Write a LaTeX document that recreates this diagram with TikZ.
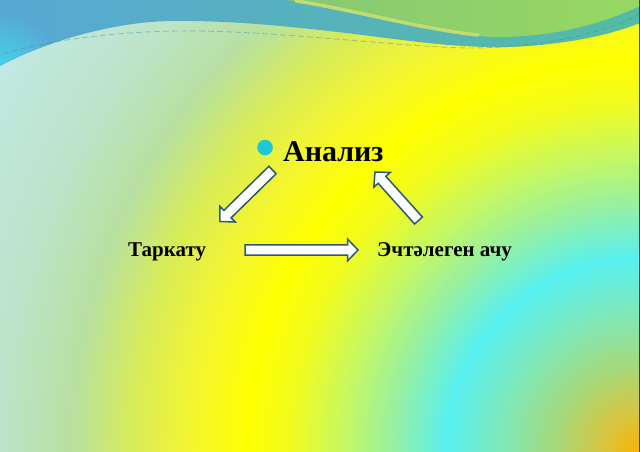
\documentclass[tikz,border=0pt]{standalone}
\usepackage{fontspec}
\setmainfont{Liberation Serif}
\usetikzlibrary{calc}
\definecolor{g0}{HTML}{F8B400}
\definecolor{g1}{HTML}{D8C640}
\definecolor{g2}{HTML}{A8D878}
\definecolor{g3}{HTML}{80E8B8}
\definecolor{g4}{HTML}{58F0F0}
\definecolor{g5}{HTML}{98F0A0}
\definecolor{g6}{HTML}{C8F860}
\definecolor{g7}{HTML}{F0FC20}
\definecolor{g8}{HTML}{FFFF00}
\definecolor{g9}{HTML}{F4F630}
\definecolor{g10}{HTML}{D8EC58}
\definecolor{g11}{HTML}{B8E0A0}
\definecolor{g12}{HTML}{BCE4C8}
\definecolor{g13}{HTML}{C4EAF0}
\definecolor{capL}{HTML}{58A8D4}
\definecolor{capR}{HTML}{54BCA4}
\definecolor{capcyan}{HTML}{42D6EA}
\definecolor{greenL}{HTML}{86C874}
\definecolor{greenR}{HTML}{98D862}
\definecolor{stripe}{HTML}{CFE070}
\definecolor{dashc}{HTML}{3C8CA0}
\definecolor{arrowline}{HTML}{2A587A}
\definecolor{bulletc}{HTML}{1CC8D8}
\newcommand\bgring[4]{%
  \foreach \k in {0,...,12}{%
    \pgfmathsetmacro\rr{#2-(#2-#1)*\k/12}%
    \pgfmathtruncatemacro\pp{100-100*\k/12}%
    \fill[#4!\pp!#3] (bc) circle[radius=\rr pt];
  }}
\newcommand\blockarrow[2]{%
  \coordinate (ba-h) at ($(#2)!10.5pt!(#1)$);
  \draw[blk] ($(#1)!5.2pt!90:(#2)$) -- ($(ba-h)!5.2pt!-90:(#1)$) -- ($(ba-h)!11pt!-90:(#1)$) -- (#2)
    -- ($(ba-h)!11pt!90:(#1)$) -- ($(ba-h)!5.2pt!90:(#1)$) -- ($(#1)!5.2pt!-90:(#2)$) -- cycle;}
\begin{document}
\begin{tikzpicture}[x=1pt,y=-1pt,
  blk/.style={draw=arrowline, line width=1.5pt, fill=white, line join=miter},
  lbl/.style={font=\bfseries\fontsize{21}{25}\selectfont, inner sep=0pt, anchor=base west},
]
\useasboundingbox (0,0) rectangle (640,452);
\begin{scope}
\clip (0,0) rectangle (640,452);
\coordinate (bc) at (640,452);
\bgring{640}{800}{g12}{g13}
\bgring{570}{640}{g11}{g12}
\bgring{510}{570}{g10}{g11}
\bgring{450}{510}{g9}{g10}
\bgring{395}{450}{g8}{g9}
\bgring{350}{395}{g7}{g8}
\bgring{300}{350}{g6}{g7}
\bgring{250}{300}{g5}{g6}
\bgring{195}{250}{g4}{g5}
\bgring{140}{195}{g3}{g4}
\bgring{85}{140}{g2}{g3}
\bgring{40}{85}{g1}{g2}
\bgring{0}{40}{g0}{g1}
% top cap
\shade[left color=capL, right color=capR] (0,0) -- (0,66) .. controls (40,44) and (110,22) .. (170,21)
  .. controls (250,20) and (330,31) .. (410,41) .. controls (460,47) and (500,49) .. (540,45)
  .. controls (590,40) and (620,31) .. (640,23) -- (640,0) -- cycle;
\begin{scope}
\clip (0,0) -- (0,66) .. controls (40,44) and (110,22) .. (170,21) -- (170,0) -- cycle;
\shade[inner color=capcyan, outer color=capL] (0,72) circle[radius=60pt];
\end{scope}
% green top-right shape
\shade[left color=greenL, right color=greenR] (286,0) .. controls (350,8) and (420,30) .. (490,37)
  .. controls (560,38) and (610,20) .. (640,6) -- (640,0) -- cycle;
\draw[stripe, line width=3.5pt, line cap=round, opacity=0.85] (296,1) .. controls (350,9) and (420,29) .. (478,35);
% dashed thin line
\draw[dashc, opacity=0.4, line width=0.9pt, dash pattern=on 6pt off 3pt]
  (3,54) .. controls (50,40) and (120,30) .. (200,31) .. controls (300,33) and (400,47) .. (470,48)
  .. controls (550,48) and (610,30) .. (640,14);
\end{scope}
\draw[black!75, line width=1pt] (639.5,0) -- (639.5,452);
% texts
\node[circle, fill=bulletc, minimum size=15.6pt, inner sep=0pt] (bul) at (265,147.5) {};
\node[lbl, font=\bfseries\fontsize{30}{36}\selectfont] (an) at (283,161) {Анализ};
\node[lbl] (tk) at (128,256.5) {Таркату};
\node[lbl] (ec) at (377,256.5) {Эчтәлеген ачу};
% block arrows
\coordinate (a1t) at (272.5,170);
\coordinate (a1h) at (220,221.5);
\coordinate (a2t) at (418.5,220.5);
\coordinate (a2h) at (375,172);
\coordinate (a3t) at (245,250);
\coordinate (a3h) at (358,250);
\blockarrow{a1t}{a1h}
\blockarrow{a2t}{a2h}
\blockarrow{a3t}{a3h}
\end{tikzpicture}
\end{document}
